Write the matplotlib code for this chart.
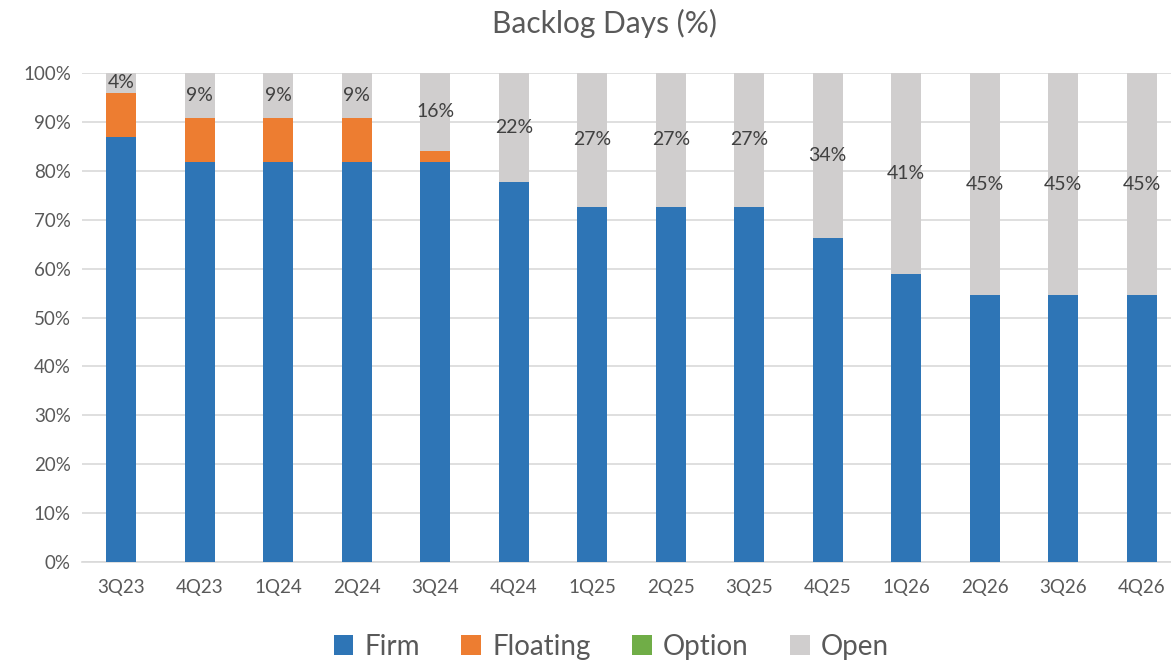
import matplotlib.pyplot as plt
import numpy as np
from matplotlib.ticker import PercentFormatter

# Dados do gráfico
trimestres = ["3Q23", "4Q23", "1Q24", "2Q24", "3Q24", "4Q24", "1Q25",
              "2Q25", "3Q25", "4Q25", "1Q26", "2Q26", "3Q26", "4Q26"]
firm = [87, 81.8, 81.8, 81.8, 81.8, 77.8, 72.7, 72.7, 72.7, 66.3, 58.8, 54.6, 54.6, 54.6]
floating = [9, 9.1, 9.1, 9.1, 2.3, 0, 0, 0, 0, 0, 0, 0, 0, 0]
option = [0, 0, 0, 0, 0, 0, 0, 0, 0, 0, 0, 0, 0, 0]
open_ = [4, 9.1, 9.1, 9.1, 15.9, 22.2, 27.3, 27.3, 27.3, 33.7, 41.2, 45.4, 45.4, 45.4]

cores = {"Firm": "#2E75B6", "Floating": "#ED7D31", "Option": "#70AD47", "Open": "#D0CECE"}
cinza = "#595959"

plt.rcParams["font.family"] = ["Lato", "DejaVu Sans"]

fig = plt.figure(figsize=(11.71, 6.64), dpi=100)
ax = fig.add_axes([0.070, 0.1536, 0.9385, 0.7364])

x = np.arange(len(trimestres))
largura = 0.386
base = np.zeros(len(x))
for nome, valores in [("Firm", firm), ("Floating", floating), ("Option", option), ("Open", open_)]:
    ax.bar(x, valores, largura, bottom=base, color=cores[nome], label=nome, zorder=3)
    if nome == "Open":
        # Rótulos no segmento "Open"
        for xi, b, v in zip(x, base, valores):
            ax.text(xi, b + v / 2, f"{v:.0f}%", ha="center", va="center",
                    fontsize=14, color="#404040", zorder=4)
    base = base + np.array(valores)

ax.set_xlim(-0.5, len(x) - 0.5)
ax.set_ylim(0, 100)
ax.set_yticks(np.arange(0, 101, 10))
ax.yaxis.set_major_formatter(PercentFormatter(decimals=0))
ax.set_xticks(x)
ax.set_xticklabels(trimestres)

ax.grid(axis="y", color="#D9D9D9", linewidth=1.2, zorder=0)
for s in ["top", "right", "left"]:
    ax.spines[s].set_visible(False)
ax.spines["bottom"].set_color("#D9D9D9")
ax.spines["bottom"].set_linewidth(1.2)
ax.tick_params(axis="both", length=0, labelsize=13.5, colors=cinza)
ax.tick_params(axis="x", pad=12)
ax.tick_params(axis="y", pad=8)

fig.text(0.516, 0.965, "Backlog Days (%)", ha="center", va="center", fontsize=21.5, color=cinza)

fig.legend(loc="center", bbox_to_anchor=(0.522, 0.026), ncol=4, frameon=False,
           fontsize=20, handlelength=0.7, handleheight=0.7, handletextpad=0.4,
           columnspacing=1.5, labelcolor=cinza)

fig.savefig("out.png", dpi=100)
